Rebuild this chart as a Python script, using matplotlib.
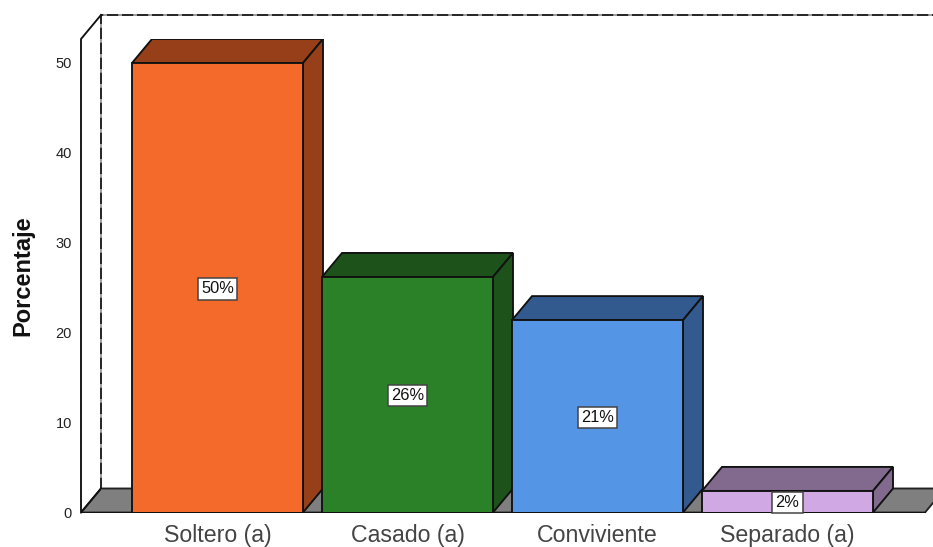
import matplotlib.pyplot as plt
from matplotlib.patches import Polygon

plt.rcParams['font.family'] = ['Liberation Sans', 'DejaVu Sans']

categories = ['Soltero (a)', 'Casado (a)', 'Conviviente', 'Separado (a)']
values = [50.0, 26.2, 21.4, 2.4]
front_colors = ['#F46A2A', '#2A8128', '#5495E6', '#CFA8E4']
dark_colors = ['#963F18', '#1D531B', '#325A8F', '#816A8D']
y_ticks = [0, 10, 20, 30, 40, 50]

W, H = 933, 547
# scale of the axes in pixels
px_x = 190.0
px_y = 8.99
bar_w = 171 / px_x
dx = 20 / px_x
dy = 24 / px_y

fig = plt.figure(figsize=(W / 100, H / 100), dpi=100)
left, right, bottom, top = 81, 933, 512.5, 39
ax = fig.add_axes([left / W, 1 - bottom / H, (right - left) / W, (bottom - top) / H])
x_min = (left - 217.5) / px_x
x_max = (right - 217.5) / px_x
x_floor = (925 - 217.5) / px_x
y_max = (bottom - top) / px_y
ax.set_xlim(x_min, x_max)
ax.set_ylim(0, y_max)
for s in ax.spines.values():
    s.set_visible(False)

lw = 1.35

# gray floor
ax.add_patch(Polygon([(x_min, 0), (x_min + dx, dy), (x_floor + dx, dy), (x_floor, 0)],
                     closed=True, fc='#7F7F7F', ec='#222222', lw=lw, zorder=1))

# back wall: gray line under black dashes, then the left side wall
wall_x = [x_min + dx, x_min + dx, x_max]
wall_y = [dy, y_max + dy, y_max + dy]
ax.plot(wall_x, wall_y, color='#999999', lw=lw, clip_on=False, zorder=2)
ax.plot(wall_x, wall_y, color='#222222', lw=lw, ls=(0, (6, 2)), clip_on=False, zorder=2)
ax.plot([x_min, x_min, x_min + dx], [0, y_max, y_max + dy], color='#111111', lw=lw,
        clip_on=False, zorder=2)
ax.plot([x_min, x_min + dx], [0, dy], color='#111111', lw=lw, zorder=2)

# 3D bars: top and side faces first, then the front
for i, v in enumerate(values):
    x0 = i - bar_w / 2
    x1 = i + bar_w / 2
    z = 3 + i
    ax.add_patch(Polygon([(x0, v), (x0 + dx, v + dy), (x1 + dx, v + dy), (x1, v)],
                         closed=True, fc=dark_colors[i], ec='#111111', lw=lw, zorder=z))
    ax.add_patch(Polygon([(x1, 0), (x1 + dx, dy), (x1 + dx, v + dy), (x1, v)],
                         closed=True, fc=dark_colors[i], ec='#111111', lw=lw, zorder=z))
    ax.bar(i, v, width=bar_w, color=front_colors[i], edgecolor='#111111', lw=lw, zorder=z)
    ax.annotate(f'{v:.0f}%', (i, v / 2), xytext=(0, -0.7), textcoords='offset points',
                ha='center', va='center', fontsize=11.8, color='#111111', zorder=10,
                bbox=dict(boxstyle='square,pad=0.2', fc='white', ec='#444444', lw=1.1))

ax.plot([x_min, x_floor], [0, 0], color='#111111', lw=lw, zorder=8)

ax.set_xticks(range(len(categories)))
ax.set_xticklabels(categories, fontsize=16.7, color='#444444')
ax.set_yticks(y_ticks)
ax.set_yticklabels([str(t) for t in y_ticks], fontsize=10.5, color='#222222')
ax.tick_params(axis='x', length=0, pad=8.5)
ax.tick_params(axis='y', length=0, pad=6.5)
ax.set_ylabel('Porcentaje', fontsize=17, fontweight='bold', color='#111111')
ax.yaxis.set_label_coords((34 - left) / (right - left), 0.5)

fig.savefig('out.png', dpi=100)
